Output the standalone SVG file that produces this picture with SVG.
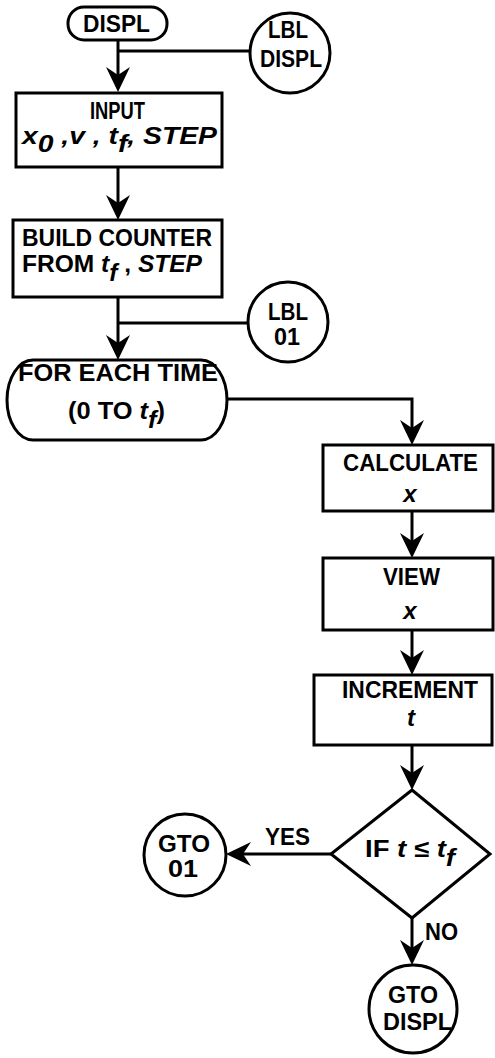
<svg xmlns="http://www.w3.org/2000/svg" width="495" height="1058" viewBox="0 0 495 1058">
<style>
  .shape { fill: #fff; stroke: #000; stroke-width: 3; }
  .conn { fill: none; stroke: #000; stroke-width: 3; marker-end: url(#ah); }
  .plain { fill: none; stroke: #000; stroke-width: 3; }
  text { font-family: "Liberation Sans", Arial, sans-serif; font-weight: bold; font-size: 24px; fill: #000; }
  .c { text-anchor: middle; }
  .i { font-style: italic; }
</style>
<defs>
  <marker id="ah" markerUnits="userSpaceOnUse" markerWidth="28" markerHeight="28" viewBox="-25 -14 28 28" refX="-10" refY="0" orient="auto">
    <path d="M0,0 L-25,-12 L-17,0 L-25,12 Z" fill="#000"/>
  </marker>
</defs>
<rect width="495" height="1058" fill="#fff"/>
<g id="connectors">
  <path class="conn" d="M118,40 V82"/>
  <path class="plain" d="M250,51 H118"/>
  <path class="conn" d="M118,167 V210"/>
  <path class="conn" d="M118,297 V350"/>
  <path class="plain" d="M248,323 H118"/>
  <path class="conn" d="M227,399 H412 V435"/>
  <path class="conn" d="M412,511 V548"/>
  <path class="conn" d="M412,630 V665"/>
  <path class="conn" d="M412,745 V780"/>
  <path class="conn" d="M331,854 H236"/>
  <path class="conn" d="M412,918 V955"/>
  <text x="265" y="845" textLength="45" lengthAdjust="spacingAndGlyphs">YES</text>
  <text x="425" y="940" textLength="33" lengthAdjust="spacingAndGlyphs">NO</text>
</g>
<g id="start">
  <rect class="shape" x="68" y="7" width="99" height="33" rx="16" ry="16"/>
  <text x="83" y="32" textLength="67" lengthAdjust="spacingAndGlyphs">DISPL</text>
</g>
<g id="lbl-displ">
  <circle class="shape" cx="290" cy="53" r="40"/>
  <text x="268" y="38" textLength="40" lengthAdjust="spacingAndGlyphs">LBL</text>
  <text x="260" y="67" textLength="62" lengthAdjust="spacingAndGlyphs">DISPL</text>
</g>
<g id="input">
  <rect class="shape" x="16" y="93" width="206" height="74"/>
  <text x="90" y="119" textLength="55" lengthAdjust="spacingAndGlyphs">INPUT</text>
  <text x="22" y="144" class="i" textLength="195" lengthAdjust="spacingAndGlyphs">x<tspan dy="8">0</tspan><tspan dy="-8"> ,v , t</tspan><tspan dy="8">f</tspan><tspan dy="-8">, STEP</tspan></text>
</g>
<g id="build">
  <rect class="shape" x="13" y="220" width="209" height="77"/>
  <text x="22" y="246" textLength="190" lengthAdjust="spacingAndGlyphs">BUILD COUNTER</text>
  <text x="22" y="272" textLength="180" lengthAdjust="spacingAndGlyphs">FROM  <tspan class="i">t</tspan><tspan class="i" dy="9">f</tspan><tspan dy="-9"> , </tspan><tspan class="i">STEP</tspan></text>
</g>
<g id="lbl-01">
  <circle class="shape" cx="288" cy="322" r="40"/>
  <text x="268" y="320" textLength="40" lengthAdjust="spacingAndGlyphs">LBL</text>
  <text x="274" y="345" textLength="26" lengthAdjust="spacingAndGlyphs">01</text>
</g>
<g id="for-each">
  <rect class="shape" x="7" y="360" width="220" height="80" rx="26" ry="40"/>
  <text x="18" y="381" textLength="200" lengthAdjust="spacingAndGlyphs">FOR EACH TIME</text>
  <text x="68" y="419" textLength="97" lengthAdjust="spacingAndGlyphs">(0 TO <tspan class="i">t</tspan><tspan class="i" dy="9">f</tspan><tspan dy="-9">)</tspan></text>
</g>
<g id="calculate">
  <rect class="shape" x="323" y="445" width="170" height="66"/>
  <text x="343" y="471" textLength="135" lengthAdjust="spacingAndGlyphs">CALCULATE</text>
  <text x="410" y="502" class="c i">x</text>
</g>
<g id="view">
  <rect class="shape" x="323" y="558" width="170" height="72"/>
  <text x="383" y="585" textLength="57" lengthAdjust="spacingAndGlyphs">VIEW</text>
  <text x="410" y="619" class="c i">x</text>
</g>
<g id="increment">
  <rect class="shape" x="314" y="675" width="178" height="70"/>
  <text x="342" y="698" textLength="136" lengthAdjust="spacingAndGlyphs">INCREMENT</text>
  <text x="411" y="726" class="c i">t</text>
</g>
<g id="decision">
  <polygon class="shape" points="412,790 490,854 412,918 331,854"/>
  <text x="365" y="857" textLength="90" lengthAdjust="spacingAndGlyphs">IF <tspan class="i">t</tspan> ≤ <tspan class="i">t</tspan><tspan class="i" dy="9">f</tspan></text>
</g>
<g id="gto-01">
  <circle class="shape" cx="185" cy="855" r="41"/>
  <text x="158" y="852" textLength="52" lengthAdjust="spacingAndGlyphs">GTO</text>
  <text x="168" y="877" textLength="30" lengthAdjust="spacingAndGlyphs">01</text>
</g>
<g id="gto-displ">
  <circle class="shape" cx="413" cy="1009" r="44"/>
  <text x="388" y="1003" textLength="50" lengthAdjust="spacingAndGlyphs">GTO</text>
  <text x="383" y="1030" textLength="69" lengthAdjust="spacingAndGlyphs">DISPL</text>
</g>
</svg>
